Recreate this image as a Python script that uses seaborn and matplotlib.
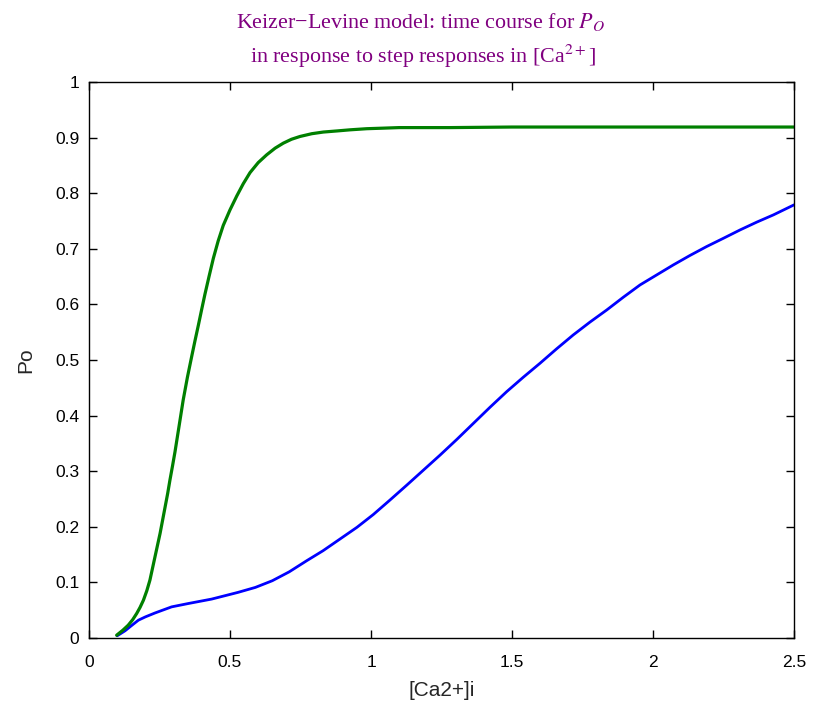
import numpy as np
import pandas as pd
import matplotlib
matplotlib.use("Agg")
import matplotlib.pyplot as plt
import seaborn as sns

# Blue curve
ca_blue = [0.10, 0.128, 0.15, 0.175, 0.20, 0.234, 0.293, 0.352, 0.435, 0.528, 0.59, 0.65, 0.71,
           0.772, 0.83, 0.89, 0.95, 1.008, 1.067, 1.127, 1.186, 1.245, 1.304, 1.363, 1.422,
           1.481, 1.54, 1.599, 1.658, 1.717, 1.776, 1.836, 1.895, 1.954, 2.013, 2.072, 2.131,
           2.190, 2.25, 2.309, 2.368, 2.427, 2.50]
po_blue = [0.004, 0.013, 0.022, 0.032, 0.038, 0.045, 0.056, 0.062, 0.070, 0.082, 0.091, 0.103, 0.119,
           0.139, 0.157, 0.178, 0.199, 0.222, 0.248, 0.275, 0.302, 0.329, 0.357, 0.386, 0.415,
           0.443, 0.469, 0.494, 0.520, 0.545, 0.568, 0.590, 0.613, 0.635, 0.653, 0.671, 0.688,
           0.704, 0.719, 0.734, 0.748, 0.761, 0.779]

# Green curve
ca_green = [0.098, 0.12, 0.139, 0.155, 0.169, 0.181, 0.193, 0.205, 0.216, 0.225, 0.234, 0.243, 0.252,
            0.261, 0.270, 0.279, 0.287, 0.296, 0.305, 0.320, 0.334, 0.349, 0.364, 0.376, 0.388,
            0.400, 0.411, 0.426, 0.441, 0.458, 0.476, 0.500, 0.524, 0.547, 0.571, 0.600, 0.630,
            0.660, 0.689, 0.718, 0.748, 0.790, 0.831, 0.880, 0.926, 0.985, 1.044, 1.10, 1.162,
            1.28, 1.50, 1.80, 2.10, 2.50]
po_green = [0.005, 0.014, 0.023, 0.033, 0.044, 0.055, 0.068, 0.085, 0.104, 0.125, 0.146, 0.167, 0.188,
            0.212, 0.236, 0.260, 0.284, 0.309, 0.335, 0.383, 0.428, 0.469, 0.506, 0.535, 0.563,
            0.592, 0.618, 0.651, 0.683, 0.714, 0.742, 0.770, 0.795, 0.817, 0.837, 0.855, 0.869,
            0.881, 0.890, 0.897, 0.902, 0.907, 0.910, 0.912, 0.914, 0.916, 0.917, 0.918, 0.918,
            0.918, 0.919, 0.919, 0.919, 0.919]

x_ticks = [0, 0.5, 1, 1.5, 2, 2.5]
x_tick_labels = ["0", "0.5", "1", "1.5", "2", "2.5"]
y_ticks = [0, 0.1, 0.2, 0.3, 0.4, 0.5, 0.6, 0.7, 0.8, 0.9, 1.0]
y_tick_labels = ["0", "0.1", "0.2", "0.3", "0.4", "0.5", "0.6", "0.7", "0.8", "0.9", "1"]

title_line1 = "Keizer\u2212Levine model: time course for $P_O$"
title_line2 = "in response to step responses in [Ca$^{2+}$]"

df_blue = pd.DataFrame({"ca": ca_blue, "po": po_blue})
df_green = pd.DataFrame({"ca": ca_green, "po": po_green})

sns.set_style("ticks")
plt.rcParams['font.family'] = ['Liberation Sans', 'DejaVu Sans']
plt.rcParams['mathtext.fontset'] = 'stix'

fig = plt.figure(figsize=(8.14, 7.13), dpi=100)
ax = fig.add_axes([89 / 814, 1 - 638 / 713, (794 - 89) / 814, (638 - 82) / 713])

sns.lineplot(data=df_blue, x="ca", y="po", color="#0000ff", lw=2.0, ax=ax,
             estimator=None, sort=False)
sns.lineplot(data=df_green, x="ca", y="po", color="#008000", lw=2.3, ax=ax,
             estimator=None, sort=False)

ax.set_xlim(0, 2.5)
ax.set_ylim(0, 1)
ax.set_xticks(x_ticks)
ax.set_xticklabels(x_tick_labels)
ax.set_yticks(y_ticks)
ax.set_yticklabels(y_tick_labels)
ax.tick_params(axis='both', direction='in', length=6, width=1, colors='black',
               labelsize=12.5, top=True, right=True)
ax.tick_params(axis='x', pad=12)
ax.tick_params(axis='y', pad=7)
for s in ax.spines.values():
    s.set_visible(True)
    s.set_color('black')
    s.set_linewidth(1)

ax.set_xlabel("[Ca2+]i", fontsize=15, labelpad=8)
ax.set_ylabel("Po", fontsize=15, labelpad=14)

fig.text(421 / 814, 1 - 28 / 713, title_line1, ha='center', va='baseline',
         fontsize=15.8, color="#800080", family="Liberation Serif")
fig.text(423 / 814, 1 - 63 / 713, title_line2, ha='center', va='baseline',
         fontsize=15.8, color="#800080", family="Liberation Serif")

fig.savefig("out.png", dpi=100, facecolor="white")
